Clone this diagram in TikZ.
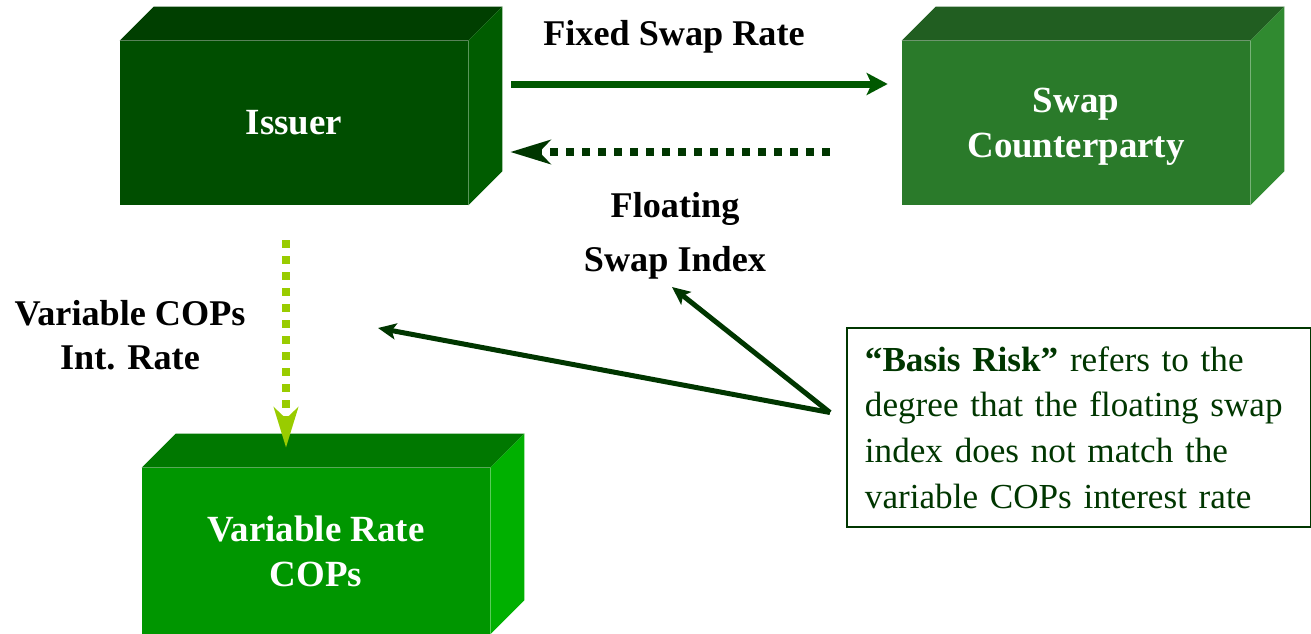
\documentclass[tikz,border=0pt]{standalone}
\usepackage{fontspec}
\setmainfont{Liberation Serif}
\usetikzlibrary{arrows.meta,positioning}

\definecolor{issuerfront}{HTML}{004E00}
\definecolor{issuertop}{HTML}{003F00}
\definecolor{issuerside}{HTML}{005C00}
\definecolor{partyfront}{HTML}{2A7A2A}
\definecolor{partytop}{HTML}{215E21}
\definecolor{partyside}{HTML}{308A30}
\definecolor{copsfront}{HTML}{009600}
\definecolor{copstop}{HTML}{007800}
\definecolor{copsside}{HTML}{00B000}
\definecolor{flowgreen}{HTML}{005800}
\definecolor{darkgreen}{HTML}{003600}
\definecolor{limegreen}{HTML}{99CC00}

% top and right faces of a box node
\newcommand{\cuboidfaces}[3]{%
  \fill[#2] (#1.north west) -- ++(34,-34) -- ([shift={(34,-34)}]#1.north east) -- (#1.north east) -- cycle;
  \fill[#3] (#1.north east) -- ++(34,-34) -- ([shift={(34,-34)}]#1.south east) -- (#1.south east) -- cycle;}

\begin{document}
\begin{tikzpicture}[x=0.02cm, y=-0.02cm,
        party/.style={rectangle, inner sep=0pt, minimum width=6.96cm, minimum height=3.28cm,
          text=white, align=center, font=\fontsize{21}{25.5}\selectfont\bfseries},
        lbl/.style={align=center, font=\fontsize{20.6}{25}\selectfont\bfseries},
        flow/.style={line width=0.14cm, flowgreen, -{Stealth[length=0.42cm, width=0.44cm, inset=0.1cm]}},
        dots/.style={line width=0.16cm, dash pattern=on 0.16cm off 0.16cm,
          -{Stealth[length=0.8cm, width=0.48cm, inset=0.22cm]}},
        pointer/.style={line width=0.1cm, darkgreen, -{Stealth[length=0.36cm, width=0.32cm, inset=0.08cm]}}]

        \useasboundingbox (0,0) rectangle (1311,633);

        % the three parties
        \node[party, fill=issuerfront] (issuer) at (294,123) {Issuer};
        \cuboidfaces{issuer}{issuertop}{issuerside}
        \node[party, fill=partyfront, text depth=0pt] (cparty) at (1076,123) {Swap\\Counterparty};
        \cuboidfaces{cparty}{partytop}{partyside}
        \node[party, fill=copsfront, minimum height=3.32cm] (cops) at (316,551) {Variable Rate\\COPs};
        \cuboidfaces{cops}{copstop}{copsside}

        % labels on the flows
        \node[lbl] (fixed) at (674,37) {Fixed Swap Rate};
        \node[lbl, font=\fontsize{20.6}{30.6}\selectfont\bfseries] (floating) at (675,236) {Floating\\Swap Index};
        \node[lbl] (varrate) at (130,335) {Variable COPs\\Int. Rate};

        % note on basis risk
        \node[draw=darkgreen, line width=1.1pt, text=darkgreen, align=left, anchor=west,
          inner xsep=0.36cm, inner ysep=0pt, minimum height=3.98cm, text width=8.56cm,
          font=\fontsize{20}{26}\selectfont] (basis) at (846,427.5)
          {\textbf{“Basis Risk”} refers to the\\degree that the floating swap\\index does not match the\\variable COPs interest rate};

        \coordinate (fork) at ([shift={(-16,-15)}]basis.west);
        \coordinate (indextip) at (672,287);
        \coordinate (ratetip) at (378,328);

        \draw[flow] ([shift={(43,-39)}]issuer.east) -- ([shift={(-14,-39)}]cparty.west);
        \draw[dots, darkgreen] ([shift={(-72,29)}]cparty.west) -- ([shift={(42,29)}]issuer.east);
        \draw[dots, limegreen] ([shift={(-8,35)}]issuer.south) -- ([shift={(-30,-20)}]cops.north);

        \draw[pointer] (fork) -- (indextip);
        \draw[pointer] (fork) -- (ratetip);

      \end{tikzpicture}
\end{document}
